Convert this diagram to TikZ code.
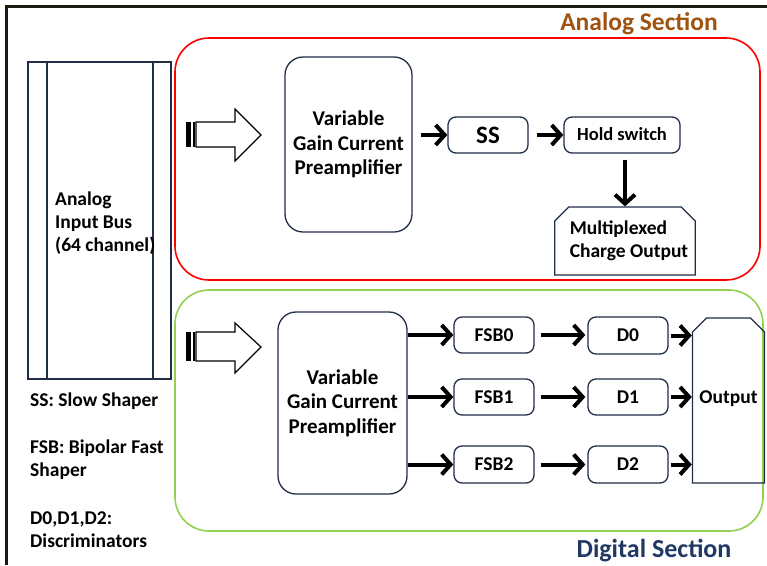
\documentclass[tikz,border=0pt]{standalone}
\usepackage{fontspec}
\setmainfont{Carlito}
\usetikzlibrary{arrows.meta,shapes.misc}
\definecolor{boxcol}{HTML}{1F2D45}
\definecolor{redsec}{HTML}{FF0000}
\definecolor{greensec}{HTML}{92D050}
\definecolor{analogtitle}{HTML}{A0520F}
\definecolor{digitaltitle}{HTML}{1F3864}
\definecolor{framecol}{HTML}{1A1A10}
\begin{document}
\begin{tikzpicture}[x=1pt,y=-1pt,
  every node/.style={font=\bfseries\fontsize{19.5}{23}\selectfont, inner sep=0pt},
  pre/.style={draw=boxcol, line width=1.3pt, rounded corners=18pt, align=center,
    font=\bfseries\fontsize{21}{24.5}\selectfont},
  small/.style={draw=boxcol, line width=1.3pt, rounded corners=8pt},
  snip/.style={draw=boxcol, line width=1.3pt, chamfered rectangle,
    chamfered rectangle corners={north west,north east},
    chamfered rectangle xsep=7pt, chamfered rectangle ysep=7pt},
  flow/.style={line width=4pt, -{Straight Barb[length=9pt,width=20pt]}},
  blockarrow/.style={draw=black, line width=1.2pt, fill=white}
]
\useasboundingbox (0,0) rectangle (767,565);
% frame
\draw[framecol, line width=2.6pt] (767,6.5) -- (6.5,6.5) -- (6.5,565);

% sections
\draw[redsec, line width=1.6pt, rounded corners=34pt] (175,38) rectangle (760,280);
\draw[greensec, line width=1.6pt, rounded corners=34pt] (175,290) rectangle (763,531);
\node[text=analogtitle, font=\bfseries\fontsize{25.5}{29}\selectfont] (atitle) at (639,24) {Analog Section};
\node[text=digitaltitle, font=\bfseries\fontsize{26}{30}\selectfont] (dtitle) at (654,551) {Digital Section};

% input bus
\draw[boxcol, line width=1.3pt] (28,62) rectangle (171,379);
\draw[boxcol, line width=1.3pt] (47,62) -- (47,379);
\draw[boxcol, line width=1.3pt] (153,62) -- (153,379);
\node[anchor=west, align=left] (bus) at (55,223) {Analog\\Input Bus\\(64 channel)};

% legend
\node[anchor=west] (l1) at (30,401) {SS: Slow Shaper};
\node[anchor=west, align=left] (l2) at (30,459.5) {FSB: Bipolar Fast\\Shaper};
\node[anchor=west, align=left] (l3) at (30,529.5) {D0,D1,D2:\\Discriminators};

% block arrows
\fill[black] (186,122) rectangle (191,147);
\draw[black, line width=1.2pt] (194,122) -- (194,147);
\draw[blockarrow] (196,122) -- (235,122) -- (235,109) -- (261,135) -- (235,161) -- (235,147) -- (196,147) -- cycle;
\fill[black] (186,332) rectangle (191,361);
\draw[black, line width=1.2pt] (194,332) -- (194,361);
\draw[blockarrow] (196,332) -- (235,332) -- (235,323) -- (261,347) -- (235,373) -- (235,361) -- (196,361) -- cycle;

% analog chain
\node[pre, minimum width=127pt, minimum height=175pt] (apre) at (348.5,144.5) {Variable\\Gain Current\\Preamplifier};
\node[small, minimum width=80pt, minimum height=36pt, font=\bfseries\fontsize{25}{28}\selectfont] (ss) at (488,135) {SS};
\node[small, minimum width=116pt, minimum height=36pt, font=\bfseries\fontsize{18.5}{22}\selectfont] (hold) at (622,135) {\raisebox{2.5pt}{Hold switch}};
\node[snip, minimum width=136pt, minimum height=68pt, align=left] (mux) at (625,241) {\hspace*{8pt}Multiplexed\\\hspace*{8pt}Charge Output};

\draw[flow, shorten <=8pt] (apre.east |- ss) -- (ss.west);
\draw[flow, shorten <=8pt] (ss.east) -- (hold.west);
\draw[flow, shorten <=6pt] (hold.south -| mux.north) -- (mux.north);

% digital chain
\node[pre, minimum width=129pt, minimum height=182pt] (dpre) at (342.5,403) {Variable\\Gain Current\\Preamplifier};
\node[small, minimum width=80pt, minimum height=36pt] (f0) at (494,335) {FSB0};
\node[small, minimum width=80pt, minimum height=36pt] (f1) at (494,397) {FSB1};
\node[small, minimum width=80pt, minimum height=37pt] (f2) at (494,464.5) {FSB2};
\node[small, minimum width=80pt, minimum height=37pt] (d0) at (628,335.5) {D0};
\node[small, minimum width=80pt, minimum height=36pt] (d1) at (628,397) {\raisebox{-3pt}{D1}};
\node[small, minimum width=80pt, minimum height=37pt] (d2) at (628,464.5) {\raisebox{-2pt}{D2}};
\node[snip, minimum width=61pt, minimum height=165pt] (out) at (728.5,400.5) {\raisebox{6pt}{Output}};

\foreach \f in {f0,f1,f2}{\draw[flow] (dpre.east |- \f) -- (\f.west);}
\draw[flow, shorten <=6pt, shorten >=2pt] (f0.east) -- (d0.west |- f0);
\draw[flow, shorten <=6pt, shorten >=2pt] (f1.east) -- (d1.west |- f1);
\draw[flow, shorten <=6pt, shorten >=2pt] (f2.east) -- (d2.west |- f2);
\draw[flow, shorten <=2pt] (d0.east) -- (out.west |- d0);
\draw[flow, shorten <=2pt] (d1.east) -- (out.west |- d1);
\draw[flow, shorten <=2pt] (d2.east) -- (out.west |- d2);
\end{tikzpicture}
\end{document}
